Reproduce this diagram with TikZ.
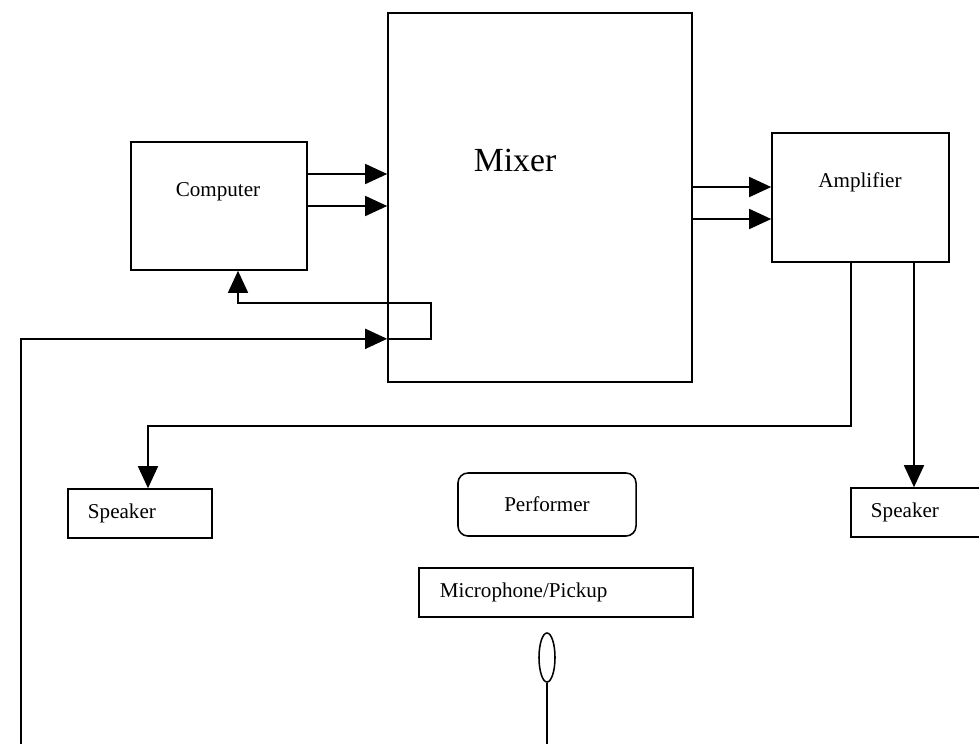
\documentclass[tikz,border=0pt]{standalone}
\usepackage{fontspec}
\setmainfont{Liberation Serif}
\usetikzlibrary{arrows.meta,shapes.geometric}
\tikzset{
    every node/.style={inner sep=0mm, font=\fontsize{15pt}{18pt}\selectfont}
}
\tikzset{
    box/.style={draw, rectangle},
    sidebox/.style={box, align=left, minimum height=1.225cm, inner ysep=0mm},
    sig/.style={-{Triangle[length=0.55cm, width=0.5cm]}}
}

\begin{document}
\begin{tikzpicture}[x=0.025cm, y=-0.025cm, line width=1.1pt]
        \useasboundingbox (0,0) rectangle (979,744);
        \node (mixer) [box, minimum width=7.6cm, minimum height=9.225cm] at (540,197.5) {};
        \node (mixerlabel) [font=\fontsize{24pt}{28pt}\selectfont] at (515,160) {Mixer};
        \node (computer) [box, minimum width=4.4cm, minimum height=3.2cm] at (219,206) {};
        \node (computerlabel) at (218,192) {Computer};
        \node (amplifier) [box, minimum width=4.425cm, minimum height=3.225cm] at (860.5,197.5) {};
        \node (amplifierlabel) at (860,182.5) {Amplifier};
        \node (speakerL) [sidebox, text width=2.6cm, inner xsep=0.5cm] at (140,513.5) {Speaker};
        \node (speakerR) [sidebox, text width=2.6cm, inner xsep=0.5cm] at (923,512.5) {Speaker};
        \node (performer) [box, rounded corners=0.25cm, minimum width=4.45cm, minimum height=1.575cm] at (547,504.5) {Performer};
        \node (pickup) [sidebox, text width=5.8cm, inner xsep=0.525cm] at (556,592.5) {Microphone/Pickup};
        \node (mic) [draw, ellipse, minimum width=0.4cm, minimum height=1.225cm] at (547,657.5) {};
        \coordinate (feedin) at (21,744);
        \coordinate (micend) at (547,744);
        % computer into mixer
        \path (computer.east) ++(0,-32) coordinate (compout1);
        \draw[sig] (compout1) -- (compout1 -| mixer.west);
        \draw[sig] (computer.east) -- (computer.east -| mixer.west);
        % mixer into amplifier
        \path (amplifier.west) ++(0,-10.5) coordinate (ampin1);
        \path (amplifier.west) ++(0,21.5) coordinate (ampin2);
        \draw[sig] (ampin1 -| mixer.east) -- (ampin1);
        \draw[sig] (ampin2 -| mixer.east) -- (ampin2);
        % feed from the stage, and back to the computer
        \path (mixer.south west) ++(0,-44) coordinate (mixin);
        \path (computer.south) ++(19,0) coordinate (compin);
        \draw[sig] (feedin) |- (mixin);
        \draw[sig] (mixin) -- ++(44,0) -- ++(0,-36) -| (compin);
        % amplifier to speakers
        \path (amplifier.south) ++(-9.5,0) coordinate (ampout1);
        \path (amplifier.south) ++(53.5,0) coordinate (ampout2);
        \path (speakerL.north) ++(8,0) coordinate (speakerLin);
        \draw[sig] (ampout1) -- ++(0,163) -| (speakerLin);
        \draw[sig] (ampout2) -- (ampout2 |- speakerR.north);
        % microphone lead
        \draw (mic.south) -- (micend);
\end{tikzpicture}
\end{document}
